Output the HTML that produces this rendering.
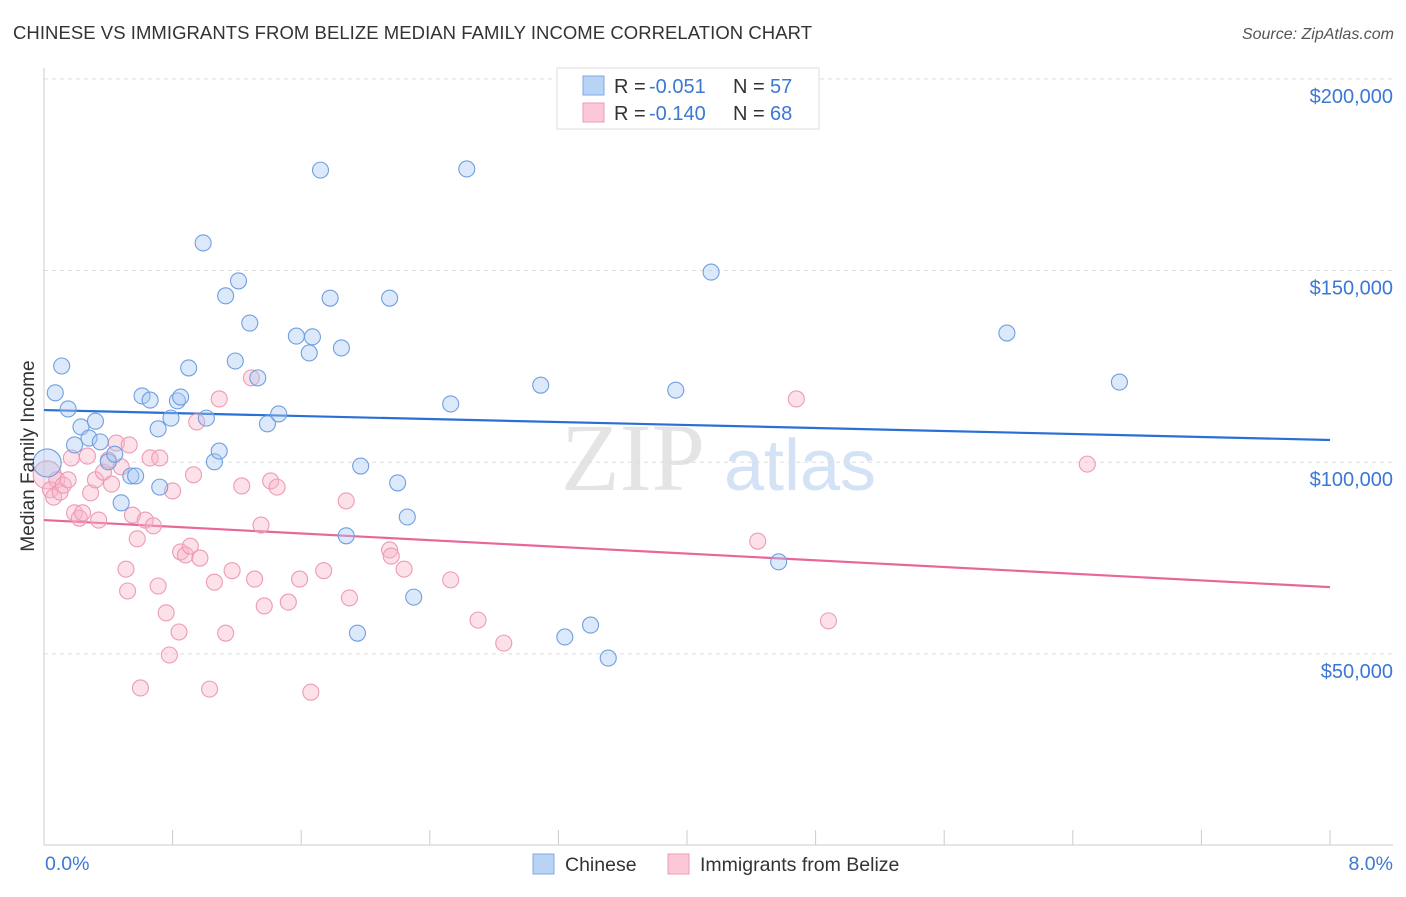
<!DOCTYPE html>
<html><head><meta charset="utf-8"><style>
body{margin:0;background:#fff;font-family:"Liberation Sans",sans-serif}
</style></head><body>
<svg width="1406" height="892" xmlns="http://www.w3.org/2000/svg" font-family="Liberation Sans, sans-serif">
<text x="13" y="39" font-size="18.5" fill="#333" textLength="799">CHINESE VS IMMIGRANTS FROM BELIZE MEDIAN FAMILY INCOME CORRELATION CHART</text>
<text x="1394" y="39" font-size="16" fill="#555" font-style="italic" text-anchor="end">Source: ZipAtlas.com</text>
<g><text x="633" y="490" font-size="96" fill="#e4e4e4" font-family="Liberation Serif, serif" text-anchor="middle">ZIP</text><text x="800" y="490" font-size="72" fill="#d4e2f5" text-anchor="middle">atlas</text></g>
<g id="grid"></g>
<g id="axes"></g>
<g id="trend"></g>
<g id="pts"></g>
<text x="34" y="456" font-size="19" fill="#333" text-anchor="middle" transform="rotate(-90 34 456)">Median Family Income</text>
<text x="45" y="870" font-size="19.5" fill="#3b78d4">0.0%</text>
<text x="1393" y="870" font-size="19.5" fill="#3b78d4" text-anchor="end">8.0%</text>
<g>
<rect x="557" y="68" width="262" height="61" fill="#fff" stroke="#ddd"/>
<rect x="583" y="76" width="21" height="19" fill="#b9d3f5" stroke="#7eaae6"/>
<rect x="583" y="103" width="21" height="19" fill="#fcc7d6" stroke="#ee9bb6"/>
<text y="93" font-size="20" fill="#333"><tspan x="614">R =</tspan><tspan x="649" fill="#3b78d4">-0.051</tspan><tspan x="733">N =</tspan><tspan x="770" fill="#3b78d4">57</tspan></text>
<text y="120" font-size="20" fill="#333"><tspan x="614">R =</tspan><tspan x="649" fill="#3b78d4">-0.140</tspan><tspan x="733">N =</tspan><tspan x="770" fill="#3b78d4">68</tspan></text>
</g>
<g>
<rect x="533" y="854" width="21" height="20" fill="#b9d3f5" stroke="#7eaae6"/>
<text x="565" y="871" font-size="19.5" fill="#333">Chinese</text>
<rect x="668" y="854" width="21" height="20" fill="#fcc7d6" stroke="#ee9bb6"/>
<text x="700" y="871" font-size="19.5" fill="#333">Immigrants from Belize</text>
</g>
</svg>
<script>
const yTicks=[50,100,150,200];
const yTickLabels=["$50,000","$100,000","$150,000","$200,000"];
const xTicks=[0,0.8,1.6,2.4,3.2,4,4.8,5.6,6.4,7.2,8];
const blueX=[0.02,0.07,0.11,0.15,0.19,0.23,0.28,0.32,0.35,0.40,0.44,0.48,0.54,0.57,0.61,0.66,0.71,0.72,0.79,0.83,0.85,0.90,0.99,1.01,1.06,1.09,1.13,1.19,1.21,1.28,1.33,1.39,1.46,1.57,1.65,1.67,1.72,1.78,1.85,1.88,1.95,1.97,2.15,2.20,2.26,2.30,2.53,2.63,3.09,3.24,3.40,3.51,3.93,4.15,4.57,5.99,6.69];
const blueY=[99.8,118.1,125.1,113.9,104.5,109.2,106.3,110.7,105.3,100.1,102.1,89.4,96.4,96.4,117.3,116.2,108.7,93.5,111.5,116.0,117.0,124.6,157.2,111.5,100.1,102.9,143.4,126.4,147.3,136.3,122.0,110.0,112.6,132.9,128.5,132.7,176.2,142.8,129.8,80.8,55.4,99.0,142.8,94.6,85.7,64.8,115.2,176.5,120.1,54.4,57.5,48.9,118.8,149.6,74.0,133.7,120.9];
const pinkX=[0.02,0.04,0.06,0.08,0.10,0.12,0.15,0.17,0.19,0.22,0.24,0.27,0.29,0.32,0.34,0.37,0.40,0.42,0.45,0.48,0.51,0.52,0.53,0.55,0.58,0.60,0.63,0.66,0.68,0.71,0.72,0.76,0.78,0.80,0.84,0.85,0.88,0.91,0.93,0.95,0.97,1.03,1.06,1.09,1.13,1.17,1.23,1.29,1.31,1.35,1.37,1.41,1.45,1.52,1.59,1.66,1.74,1.88,1.90,2.15,2.16,2.24,2.53,2.70,2.86,4.44,4.68,4.88,6.49];
const pinkY=[96.7,92.8,90.9,95.4,92.2,94.0,95.4,101.1,86.8,85.4,86.8,101.6,92.0,95.4,84.9,97.4,100.6,94.3,105.0,98.8,72.1,66.4,104.5,86.2,80.0,41.1,84.9,101.1,83.4,67.7,101.1,60.7,49.7,92.5,55.7,76.6,75.8,78.1,96.7,110.5,75.0,40.8,68.7,116.5,55.4,71.7,93.8,122.0,69.5,83.6,62.5,95.1,93.5,63.5,69.5,40.0,71.7,89.9,64.6,77.1,75.5,72.1,69.3,58.8,52.8,79.4,116.5,58.6,99.5];
const blueTrend=[113.6,105.8];
const pinkTrend=[84.9,67.4];
const NS="http://www.w3.org/2000/svg";
const X0=44,X1=1330,YB=845.5,PXK=3.833;
function sx(v){return X0+(X1-X0)*v/8;}
function sy(v){return YB-v*PXK;}
function mk(t,a,p){const e=document.createElementNS(NS,t);for(const k in a)e.setAttribute(k,a[k]);p.appendChild(e);return e;}
const grid=document.getElementById('grid'),axes=document.getElementById('axes'),trend=document.getElementById('trend'),pts=document.getElementById('pts');
yTicks.forEach((v,i)=>{
 const l=mk('line',{x1:X0,x2:1393,y1:sy(v),y2:sy(v),stroke:'#ddd','stroke-dasharray':'4,4'},grid);
 
 
 const t=mk('text',{x:1393,y:sy(v)+24,'font-size':20,fill:'#3b78d4','text-anchor':'end'},grid);
 t.textContent=yTickLabels[i];
 
 
});
mk('line',{x1:X0,x2:X0,y1:68,y2:845,stroke:'#ccc'},axes);
mk('line',{x1:X0,x2:1393,y1:845,y2:845,stroke:'#ccc'},axes);
xTicks.forEach(v=>{
 const l=mk('line',{x1:sx(v),x2:sx(v),y1:830,y2:845,stroke:'#ccc'},axes);
 
 
});
function drawPts(xs,ys,fill,stroke,name){
 xs.forEach((x,i)=>{
  const r=i===0?14:8;
  const c=mk('circle',{cx:sx(x),cy:sy(ys[i]),r:r,fill:fill,'fill-opacity':0.4,stroke:stroke,'stroke-width':1.1},pts);
  
  
 });
}
drawPts(pinkX,pinkY,'#f7b3c8','#ee9ab5','belize-point');
drawPts(blueX,blueY,'#a8c8f2','#6f9fe0','chinese-point');
const bt=mk('line',{x1:sx(0),x2:sx(8),y1:sy(blueTrend[0]),y2:sy(blueTrend[1]),stroke:'#2a6fd6','stroke-width':2.2},trend);


const pt=mk('line',{x1:sx(0),x2:sx(8),y1:sy(pinkTrend[0]),y2:sy(pinkTrend[1]),stroke:'#e8679a','stroke-width':2.2},trend);


</script>
</body></html>
